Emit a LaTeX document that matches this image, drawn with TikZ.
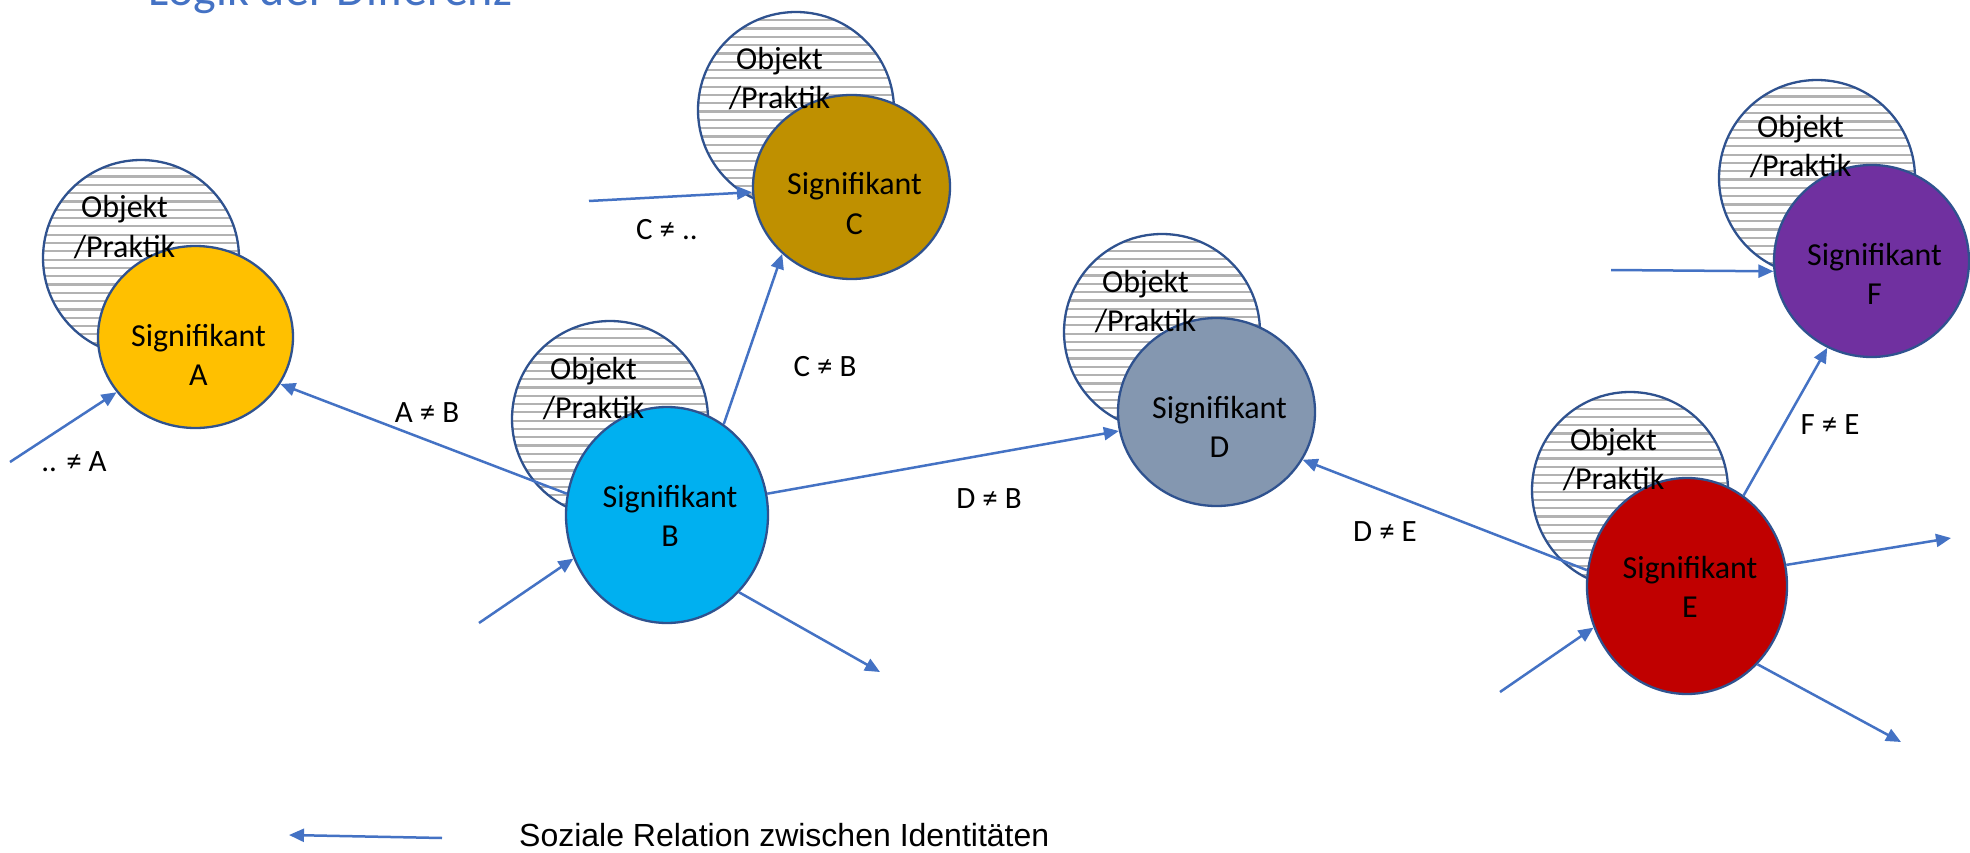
\documentclass[tikz,border=0pt]{standalone}
\usepackage{fontspec}
\setmainfont{Carlito}
\newfontfamily\arialf{Liberation Sans}
\usetikzlibrary{shapes.geometric,arrows.meta}
\definecolor{ol}{HTML}{2F528F}
\definecolor{ac}{HTML}{4472C4}
\definecolor{hg}{HTML}{B2B2B2}
\definecolor{cA}{HTML}{FFC000}
\definecolor{cB}{HTML}{00B0F0}
\definecolor{cC}{HTML}{BF9000}
\definecolor{cD}{HTML}{8497B0}
\definecolor{cE}{HTML}{C00000}
\definecolor{cF}{HTML}{7030A0}
\tikzset{
  objcirc/.style={circle, draw=ol, line width=2.3pt, fill=white, minimum size=196pt, inner sep=0pt,
    path picture={\foreach \k in {1,...,24}{\draw[hg, line width=2.2pt]
      ([yshift=-\k*8.3pt]path picture bounding box.north west) --
      ([yshift=-\k*8.3pt]path picture bounding box.north east);}}},
  sigell/.style={ellipse, draw=ol, line width=2.3pt, inner sep=0pt},
  txt/.style={inner sep=0pt, text=black, font=\fontsize{32}{39}\selectfont},
  lbl/.style={inner sep=0pt, text=black, font=\fontsize{31}{37}\selectfont},
  rel/.style={draw=ac, line width=2.5pt, -{Triangle[length=15pt,width=13pt]}},
}
% #1 name, #2 ox, #3 oy, #4 sx, #5 sy, #6 diam x, #7 diam y, #8 colour, #9 letter
\newcommand\drawpair[9]{%
  \node[objcirc] (o#1) at (#2,#3) {};
  \node[sigell, fill=#8, minimum width=#6pt, minimum height=#7pt] (s#1) at (#4,#5) {};
  \node[txt, anchor=base] (o#1a) at (#2-16.5,#3-40) {Objekt};
  \node[txt, anchor=base] (o#1b) at (#2-16.5,#3-1) {/Praktik};
  \node[txt, anchor=base] (s#1a) at (#4+3,#5-#7/2+100) {Signifikant};
  \node[txt, anchor=base] (s#1b) at (#4+3,#5-#7/2+139) {#9};
}
\begin{document}
\begin{tikzpicture}[x=1pt,y=-1pt]
\useasboundingbox (0,0) rectangle (1970,853);
\clip (0,0) rectangle (1970,853);
\fill[white] (0,0) rectangle (1970,853);
\node[anchor=base west, inner sep=0pt, text=ac, font=\fontsize{48}{56}\selectfont] (title) at (148,6) {Logik der Differenz};

\drawpair{A}{141}{258}{195.5}{337}{195}{182}{cA}{A}
\drawpair{B}{610}{419}{667}{515}{202}{216}{cB}{B}
\drawpair{C}{796}{110}{851.5}{187}{197}{184}{cC}{C}
\drawpair{D}{1162}{332}{1216.5}{412}{197}{188}{cD}{D}
\drawpair{E}{1630}{490}{1687}{586}{200}{216}{cE}{E}
\drawpair{F}{1817}{178}{1871.5}{261}{195}{192}{cF}{F}

\coordinate (inA) at (10,462);
\coordinate (inB) at (479,623);
\coordinate (outB) at (880,672);
\coordinate (inC) at (589,201);
\coordinate (inF) at (1611,270);
\coordinate (outE1) at (1951,538);
\coordinate (inE) at (1500,692);
\coordinate (outE2) at (1901,742);

\draw[rel] (inA) -- (sA.215.5);
\draw[rel] (sB.168.8) -- (sA.331);
\draw[rel] (inB) -- (sB.205.4);
\draw[rel] (sB.58.7) -- (sC.224);
\draw[rel] (inC) -- (sC.183);
\draw[rel] (sB.12.8) -- (sD.191.4);
\draw[rel] (sB.313.6) -- (outB);
\draw[rel] (sE.171) -- (sD.331.6);
\draw[rel] (sE.58.4) -- (sF.243.6);
\draw[rel] (inF) -- (sF.186);
\draw[rel] (sE.12.7) -- (outE1);
\draw[rel] (inE) -- (sE.204);
\draw[rel] (sE.312.8) -- (outE2);

\node[lbl] (lA) at (74,462) {.. ≠ A};
\node[lbl] (lAB) at (427,413) {A ≠ B};
\node[lbl] (lCB) at (825,367) {C ≠ B};
\node[lbl] (lC) at (667,230) {C ≠ ..};
\node[lbl] (lDB) at (989,499) {D ≠ B};
\node[lbl] (lDE) at (1385,532) {D ≠ E};
\node[lbl] (lFE) at (1830,425) {F ≠ E};

\coordinate (lg1) at (442,838);
\coordinate (lg2) at (289,835);
\draw[rel] (lg1) -- (lg2);
\node[anchor=west, inner sep=0pt, font=\arialf\fontsize{32}{38}\selectfont] (legend) at (519,835) {Soziale Relation zwischen Identitäten};
\end{tikzpicture}
\end{document}
